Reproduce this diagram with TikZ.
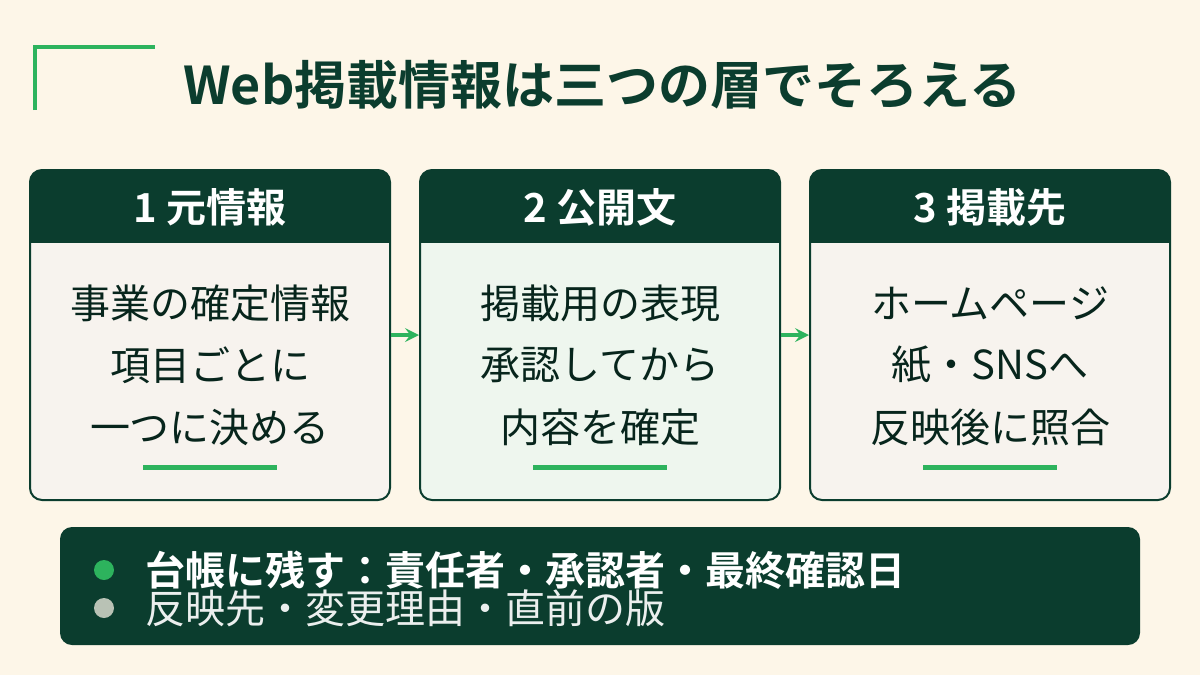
\documentclass[tikz,border=0pt]{standalone}
\usepackage{fontspec}
\setmainfont{Noto Sans CJK JP}
\newfontfamily\jpbold{Noto Sans CJK JP Bold}
\usetikzlibrary{positioning}
\definecolor{cream}{HTML}{FDF6E8}
\definecolor{deepgreen}{HTML}{0B3D2E}
\definecolor{leafgreen}{HTML}{2DB35D}
\definecolor{paper}{HTML}{F7F3EE}
\definecolor{mint}{HTML}{EEF6EE}
\definecolor{pebble}{HTML}{B9C2B5}

\tikzset{
  card/.style={draw=deepgreen, line width=1pt, rounded corners=6pt},
  cardhead/.style={text=white, font=\jpbold\fontsize{20}{24}\selectfont},
  cardline/.style={text=deepgreen!60!black, font=\fontsize{20}{24}\selectfont},
  underbar/.style={leafgreen, line width=2.5pt},
  steparrow/.style={-stealth, leafgreen, line width=2pt},
}

\begin{document}
\begin{tikzpicture}[x=0.5pt, y=-0.5pt]
        % Background
        \fill [cream] (0, 0) rectangle (1200, 675);
        \useasboundingbox (0, 0) rectangle (1200, 675);
        % Corner accent
        \draw [leafgreen, line width=2pt] (35, 110) -- (35, 47) -- (155, 47);
        % Title
        \node [anchor=west, inner sep=0pt, text=deepgreen, font=\jpbold\fontsize{26}{30}\selectfont] (title) at (183, 85) {Web掲載情報は三つの層でそろえる};
        % Cards
        \foreach \x/\fillc/\name in {30/paper/src, 420/mint/pub, 810/paper/dst} {
          \begin{scope}
            \clip [rounded corners=6pt] (\x, 170) rectangle ++(360, 330);
            \fill [\fillc] (\x, 170) rectangle ++(360, 330);
            \fill [deepgreen] (\x, 170) rectangle ++(360, 73);
          \end{scope}
          \draw [card] (\x, 170) rectangle ++(360, 330);
          \coordinate (\name) at (\x+180, 170);
        }
        % Card headers
        \node [cardhead] (h1) at (210, 207) {1 元情報};
        \node [cardhead] (h2) at (600, 207) {2 公開文};
        \node [cardhead] (h3) at (990, 207) {3 掲載先};
        % Card 1 text
        \node [cardline] (a1) at (210, 303) {事業の確定情報};
        \node [cardline] (a2) at (210, 365) {項目ごとに};
        \node [cardline] (a3) at (210, 427) {一つに決める};
        % Card 2 text
        \node [cardline] (b1) at (600, 303) {掲載用の表現};
        \node [cardline] (b2) at (600, 365) {承認してから};
        \node [cardline] (b3) at (600, 427) {内容を確定};
        % Card 3 text
        \node [cardline] (c1) at (990, 303) {ホームページ};
        \node [cardline] (c2) at (990, 365) {紙・SNSへ};
        \node [cardline] (c3) at (990, 427) {反映後に照合};
        % Under bars
        \foreach \cx in {210, 600, 990}
          \draw [underbar] (\cx-67, 467) -- (\cx+67, 467);
        % Step arrows
        \coordinate (s1) at (391, 335);
        \coordinate (e1) at (419, 335);
        \coordinate (s2) at (781, 335);
        \coordinate (e2) at (809, 335);
        \draw [steparrow] (s1) -- (e1);
        \draw [steparrow] (s2) -- (e2);
        % Ledger panel
        \fill [deepgreen, rounded corners=6pt] (60, 527) rectangle (1140, 645);
        \fill [leafgreen] (104, 570) circle [radius=10];
        \fill [pebble] (104, 608) circle [radius=10];
        \node [anchor=west, inner sep=0pt, text=white, font=\jpbold\fontsize{20}{24}\selectfont] (l1) at (145, 570) {台帳に残す：責任者・承認者・最終確認日};
        \node [anchor=west, inner sep=0pt, text=white!92!deepgreen, font=\fontsize{20}{24}\selectfont] (l2) at (145, 608) {反映先・変更理由・直前の版};
\end{tikzpicture}
\end{document}
